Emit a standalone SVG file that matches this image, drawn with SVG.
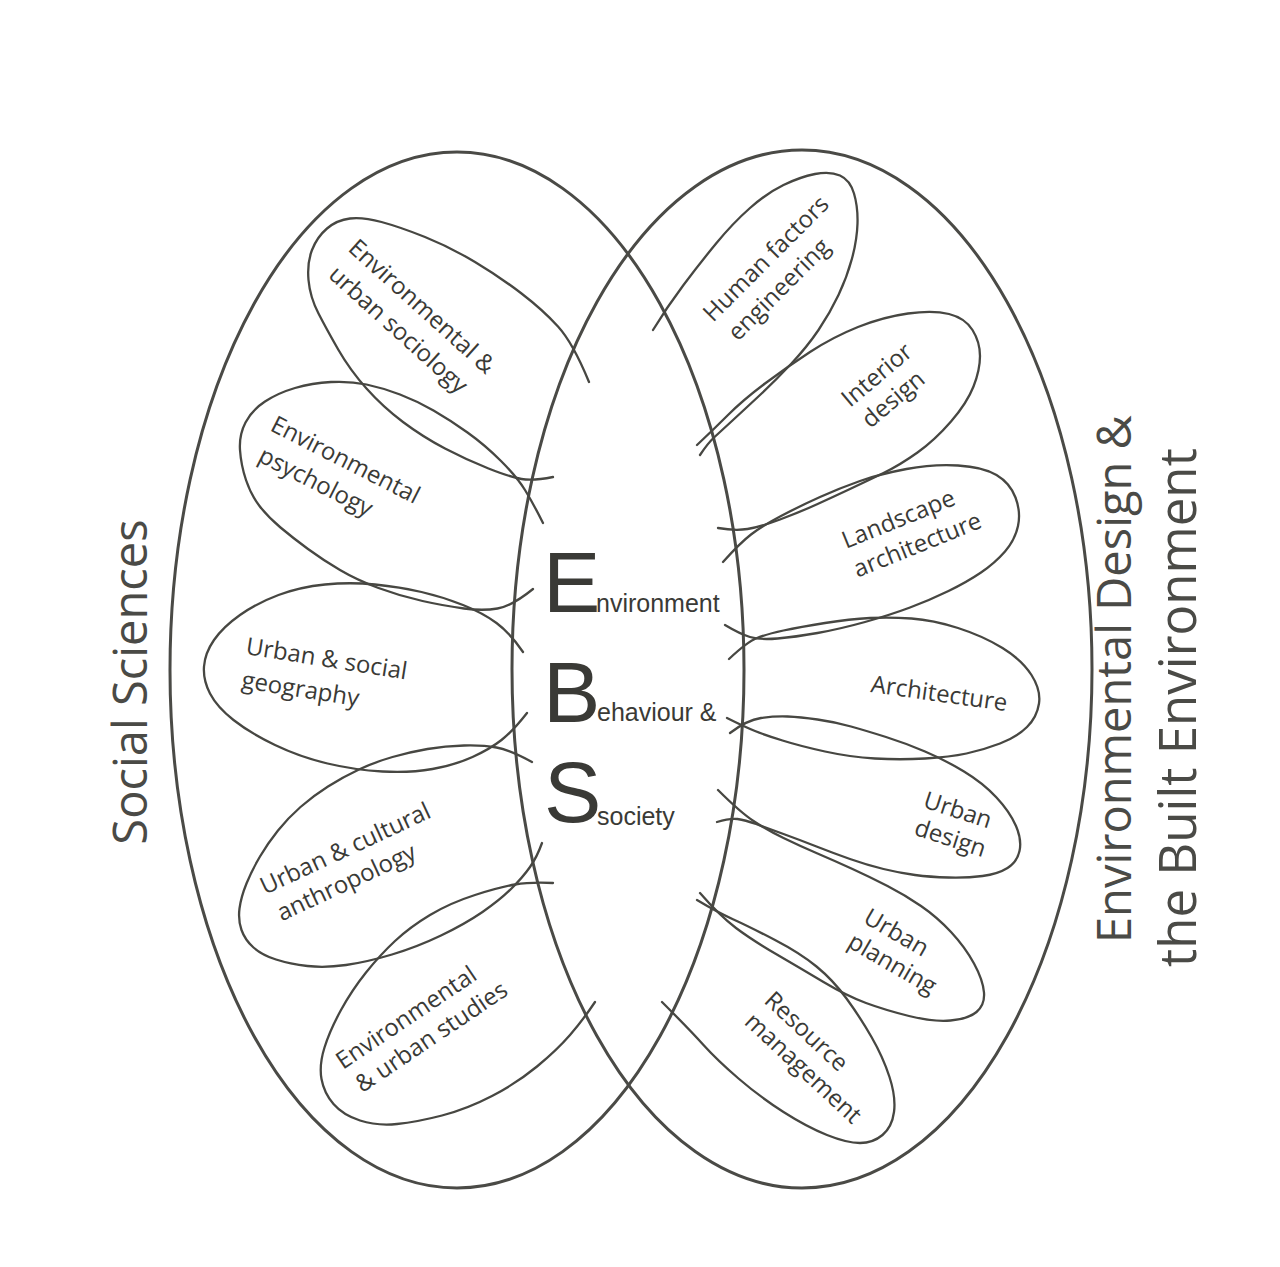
<svg xmlns="http://www.w3.org/2000/svg" width="1280" height="1267" viewBox="0 0 1280 1267">
<style>
.big{fill:none;stroke:#4a4a46;stroke-width:3}
.pet{fill:none;stroke:#474742;stroke-width:2.3;stroke-linecap:round;stroke-linejoin:round}
.lab{font-family:"Open Sans","Noto Sans",sans-serif;font-size:24px;fill:#3a3a36}
.side{font-family:"Open Sans","Noto Sans",sans-serif;fill:#4a4a46}
.ebs{font-family:"Liberation Sans",Arial,sans-serif;fill:#3a3a36}
</style>
<rect width="1280" height="1267" fill="#ffffff"/>
<g id="social-sciences">
<ellipse class="big" cx="457" cy="670" rx="287" ry="518"/>
<text class="side" font-size="47" text-anchor="middle" transform="translate(147,682) rotate(-90)">Social Sciences</text>
</g>
<g id="environmental-design">
<ellipse class="big" cx="802" cy="669" rx="290" ry="519"/>
<text class="side" font-size="47" transform="translate(1131,943) rotate(-90)">Environmental Design &amp;</text>
<text class="side" font-size="51" transform="translate(1196,967) rotate(-90)">the Built Environment</text>
</g>
<g id="ebs">
<text class="ebs" font-size="86" x="543" y="612">E</text>
<text class="ebs" font-size="25" x="596" y="612">nvironment</text>
<text class="ebs" font-size="86" x="543" y="722">B</text>
<text class="ebs" font-size="25" x="597" y="721">ehaviour &amp;</text>
<text class="ebs" font-size="86" x="544" y="822">S</text>
<text class="ebs" font-size="25" x="597" y="825">society</text>
</g>
<g id="urban-sociology">
<path class="pet" d="M589,382 Q573,343 558,326.5 Q543,310 521.5,293.5 Q500,277 475,262 Q450,247 425,237 Q400,227 381.5,222 Q363,217 350,218.5 Q337,220 327,228.5 Q317,237 312,250 Q307,263 308.5,280 Q310,297 318.5,313.5 Q327,330 338.5,350 Q350,370 366.5,388.5 Q383,407 403,422 Q423,437 445,448.5 Q467,460 488.5,468.5 Q510,477 521.5,479 Q533,481 553,477"/>
<text class="lab" transform="translate(347,250) rotate(42)"><tspan x="0" y="0">Environmental &amp;</tspan><tspan x="3" y="33">urban sociology</tspan></text>
</g>
<g id="environmental-psychology">
<path class="pet" d="M543,523 Q533,503 525,490 Q517,477 501,461 Q485,445 467.5,432.5 Q450,420 433.5,410.5 Q417,401 400,394.5 Q383,388 366.5,384.5 Q350,381 331,382 Q312,383 295,388 Q278,393 265,401.5 Q252,410 245.5,422.5 Q239,435 240,450 Q241,465 246,480 Q251,495 259.5,506 Q268,517 280.5,527.5 Q293,538 308,549 Q323,560 340,570 Q357,580 378.5,588 Q400,596 422.5,601 Q445,606 464,608.5 Q483,611 497.5,608.5 Q512,606 533,589"/>
<text class="lab" transform="translate(269,430) rotate(27)"><tspan x="0" y="0">Environmental</tspan><tspan x="3" y="33">psychology</tspan></text>
</g>
<g id="social-geography">
<path class="pet" d="M523,652 Q510,633 496.5,623 Q483,613 463,605 Q443,597 421.5,592 Q400,587 375,584.5 Q350,582 325,584.5 Q300,587 278.5,595 Q257,603 240,615 Q223,627 214,640 Q205,653 204,666.5 Q203,680 210,693.5 Q217,707 233.5,720 Q250,733 275,745 Q300,757 327.5,763.5 Q355,770 382.5,771.5 Q410,773 432.5,769 Q455,765 472.5,757 Q490,749 501.5,740 Q513,731 527,713"/>
<text class="lab" transform="translate(245,654) rotate(9)"><tspan x="0" y="0">Urban &amp; social</tspan><tspan x="1" y="34">geography</tspan></text>
</g>
<g id="cultural-anthropology">
<path class="pet" d="M532,762 Q510,750 496.5,747.5 Q483,745 464,745.5 Q445,746 427.5,749 Q410,752 392.5,757 Q375,762 359,769.5 Q343,777 328,786.5 Q313,796 300.5,807 Q288,818 278,830.5 Q268,843 260,856.5 Q252,870 246.5,883.5 Q241,897 239.5,908.5 Q238,920 241.5,930 Q245,940 253.5,947.5 Q262,955 276,959.5 Q290,964 307.5,966 Q325,968 346,965 Q367,962 392,954.5 Q417,947 441,935.5 Q465,924 482.5,912 Q500,900 511.5,888.5 Q523,877 530,867 Q537,857 542,843"/>
<text class="lab" transform="translate(265,895) rotate(-25)"><tspan x="0" y="0">Urban &amp; cultural</tspan><tspan x="4" y="31">anthropology</tspan></text>
</g>
<g id="urban-studies">
<path class="pet" d="M553,883 Q530,882 515,884.5 Q500,887 475,895 Q450,903 430,915 Q410,927 395,941 Q380,955 366,972.5 Q352,990 341,1010 Q330,1030 324.5,1047.5 Q319,1065 321.5,1079 Q324,1093 333.5,1104 Q343,1115 360,1120.5 Q377,1126 397,1124 Q417,1122 442,1115.5 Q467,1109 492,1096 Q517,1083 537,1066.5 Q557,1050 570,1035 Q583,1020 595,1002"/>
<text class="lab" transform="translate(343,1070) rotate(-34)"><tspan x="0" y="0">Environmental</tspan><tspan x="3" y="30">&amp; urban studies</tspan></text>
</g>
<g id="human-factors">
<path class="pet" d="M653,330 Q667,307 683.5,285 Q700,263 716.5,243 Q733,223 750,208 Q767,193 783.5,185 Q800,177 815,174 Q830,171 840,175.5 Q850,180 854,193.5 Q858,207 857.5,223.5 Q857,240 852,258.5 Q847,277 838.5,295 Q830,313 818.5,330 Q807,347 791,364 Q775,381 760,395 Q745,409 732.5,420.5 Q720,432 714,437.5 Q708,443 700,455"/>
<text class="lab" transform="translate(713,323) rotate(-45)"><tspan x="0" y="0">Human factors</tspan><tspan x="4" y="31">engineering</tspan></text>
</g>
<g id="interior-design">
<path class="pet" d="M697,445 Q713,430 728,415 Q743,400 765,383.5 Q787,367 810,352 Q833,337 858,327 Q883,317 908,313.5 Q933,310 949,314 Q965,318 972.5,330 Q980,342 980,356 Q980,370 973.5,386.5 Q967,403 951,421.5 Q935,440 917.5,452.5 Q900,465 883.5,473 Q867,481 850,489 Q833,497 816.5,504.5 Q800,512 780,519.5 Q760,527 747.5,529 Q735,531 718,528"/>
<text class="lab" transform="translate(850,408) rotate(-40)"><tspan x="0" y="0">Interior</tspan><tspan x="2" y="29">design</tspan></text>
</g>
<g id="landscape-architecture">
<path class="pet" d="M723,562 Q740,543 751,534.5 Q762,526 781,516 Q800,506 820,497 Q840,488 860,481 Q880,474 906.5,469 Q933,464 958,465.5 Q983,467 996.5,475 Q1010,483 1015.5,497.5 Q1021,512 1018,526 Q1015,540 1005,551.5 Q995,563 981,572.5 Q967,582 948.5,591 Q930,600 910,607.5 Q890,615 865,622 Q840,629 817.5,633 Q795,637 777.5,638.5 Q760,640 750,637 Q740,634 725,625"/>
<text class="lab" transform="translate(846,549) rotate(-22)"><tspan x="0" y="0">Landscape</tspan><tspan x="0" y="31">architecture</tspan></text>
</g>
<g id="architecture">
<path class="pet" d="M729,659 Q747,642 757,638 Q767,634 783.5,630.5 Q800,627 825,623 Q850,619 870,618 Q890,617 911.5,618.5 Q933,620 958,628 Q983,636 1002.5,648 Q1022,660 1031.5,675 Q1041,690 1039,703.5 Q1037,717 1027,727 Q1017,737 1000,743.5 Q983,750 966.5,753.5 Q950,757 925,758.5 Q900,760 875,758.5 Q850,757 825,751.5 Q800,746 782.5,740.5 Q765,735 755,731 Q745,727 727,718"/>
<text class="lab" transform="translate(870,692) rotate(8)">Architecture</text>
</g>
<g id="urban-design">
<path class="pet" d="M730,733 Q747,720 761,718 Q775,716 787.5,716.5 Q800,717 817.5,719.5 Q835,722 851,726.5 Q867,731 886,737 Q905,743 925,751.5 Q945,760 964,771.5 Q983,783 996.5,797.5 Q1010,812 1016,826 Q1022,840 1019.5,851 Q1017,862 1007.5,868 Q998,874 982.5,876 Q967,878 948.5,877.5 Q930,877 915,875 Q900,873 883.5,869 Q867,865 850,859 Q833,853 816.5,846.5 Q800,840 783.5,834 Q767,828 756,824 Q745,820 737.5,819 Q730,818 717,822"/>
<text class="lab" transform="translate(922,807) rotate(18)"><tspan x="0" y="0">Urban</tspan><tspan x="0" y="29">design</tspan></text>
</g>
<g id="urban-planning">
<path class="pet" d="M718,790 Q740,812 753.5,821 Q767,830 783.5,838 Q800,846 817.5,853.5 Q835,861 852.5,869 Q870,877 887.5,886 Q905,895 921,906 Q937,917 951,932 Q965,947 974,963.5 Q983,980 984,992.5 Q985,1005 976.5,1012 Q968,1019 950.5,1020.5 Q933,1022 909,1016 Q885,1010 866,1003 Q847,996 823.5,982 Q800,968 776,954 Q752,940 736,928 Q720,916 700,893"/>
<text class="lab" transform="translate(862,922) rotate(30)"><tspan x="0" y="0">Urban</tspan><tspan x="-1.5" y="29">planning</tspan></text>
</g>
<g id="resource-management">
<path class="pet" d="M697,900 Q717,912 733.5,919.5 Q750,927 775,940 Q800,953 816.5,966.5 Q833,980 846.5,998.5 Q860,1017 871.5,1037 Q883,1057 889.5,1077 Q896,1097 894,1112 Q892,1127 882.5,1135 Q873,1143 860,1143 Q847,1143 827,1135 Q807,1127 783.5,1112 Q760,1097 738.5,1078.5 Q717,1060 703.5,1045 Q690,1030 662,1002"/>
<text class="lab" transform="translate(763,1002) rotate(43)"><tspan x="0" y="0">Resource</tspan><tspan x="0" y="29">management</tspan></text>
</g>
</svg>
